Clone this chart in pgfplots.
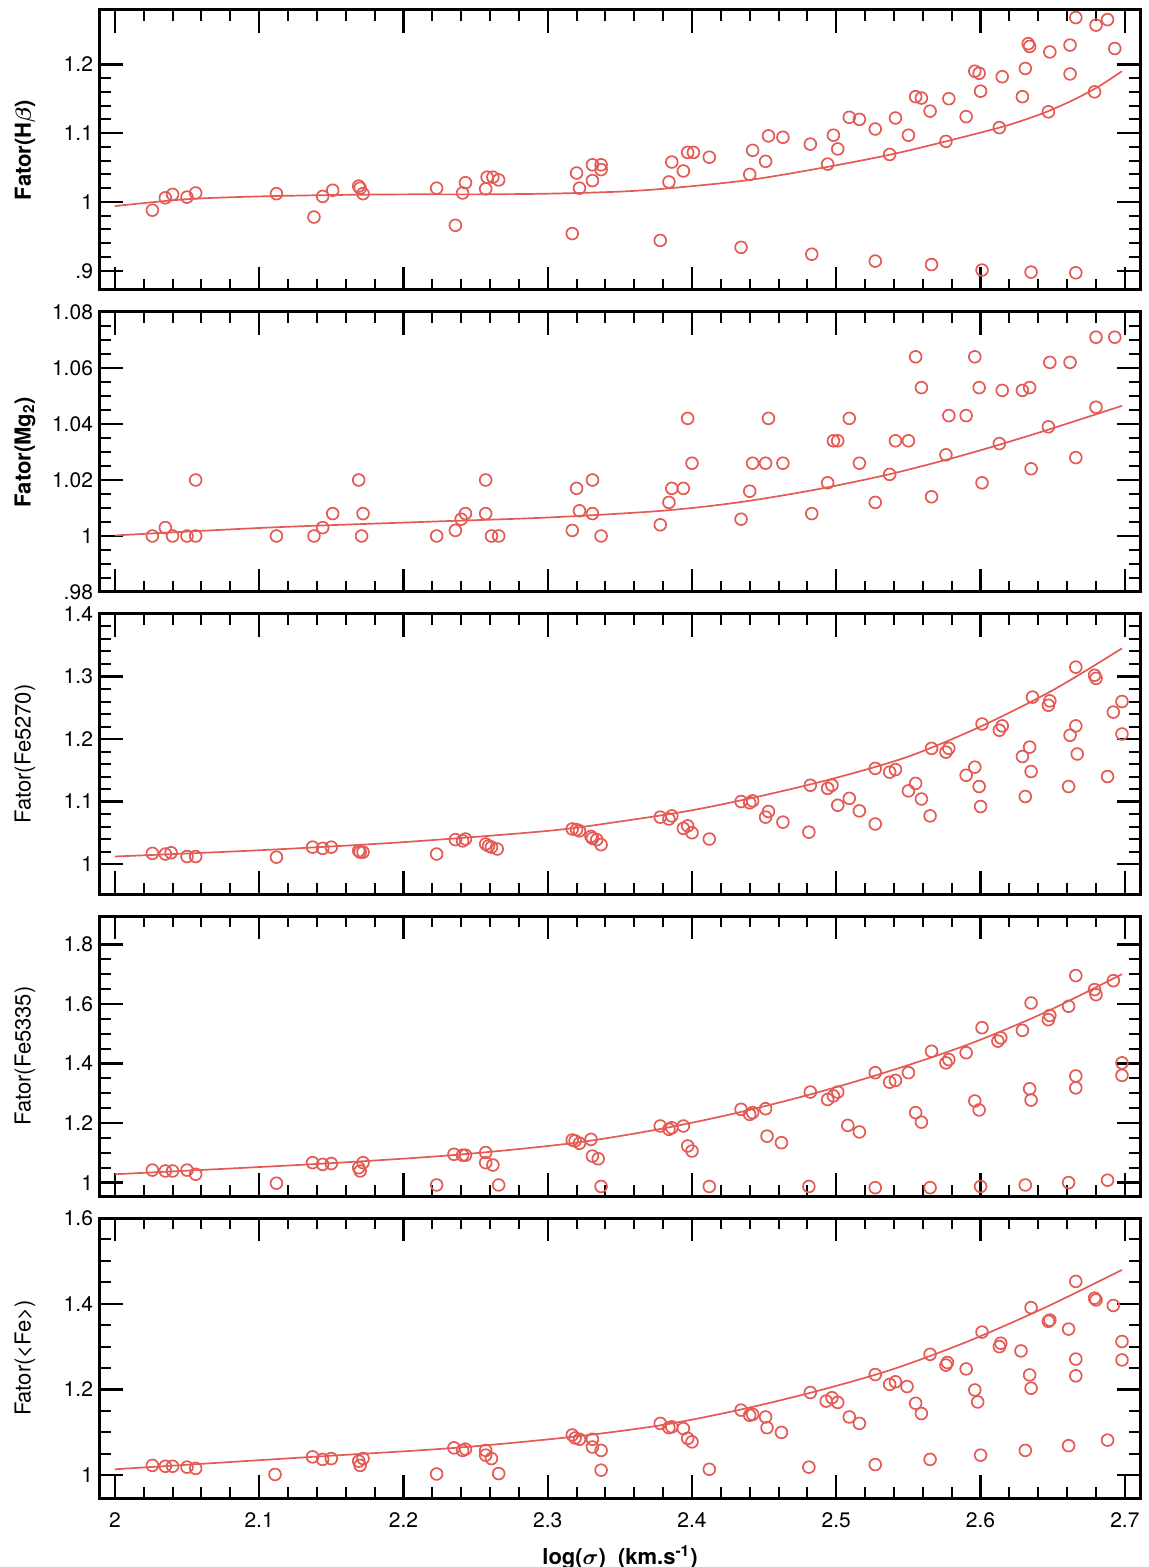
\documentclass[border=0pt]{standalone}
\usepackage{amsmath}
\usepackage{fontspec}
\setmainfont{TeX Gyre Heros}
\usepackage{pgfplots}
\pgfplotsset{compat=1.18}
\definecolor{ptred}{RGB}{228,90,84}

\pgfplotsset{
  panel/.style={
    scale only axis, width=520pt, height=140pt,
    xmin=1.9897, xmax=2.7105,
    xtick={2,2.1,2.2,2.3,2.4,2.5,2.6,2.7},
    xticklabels={},
    minor x tick num=4,
    tick align=inside,
    major tick length=11.5pt, minor tick length=5.5pt,
    major tick style={black,line width=1.2pt},
    minor tick style={black,line width=1pt},
    axis line style={line width=1.5pt},
    tick label style={font=\fontsize{10.5}{12}\selectfont},
    /pgf/number format/assume math mode=true,
    every axis y label/.style={at={(axis description cs:0,0.5)},xshift=-37.5pt,rotate=90,anchor=center,font=\fontsize{11}{13}\selectfont},
    every axis x label/.style={at={(axis description cs:0.5,0)},yshift=-29.5pt,anchor=center,font=\fontsize{11}{13}\selectfont\bfseries},
  },
  pts/.style={only marks, mark=o, mark size=2.95pt, ptred, mark options={line width=0.85pt}},
  fit/.style={no marks, smooth, ptred, line width=0.85pt},
}

\begin{document}
\begin{tikzpicture}
% Hbeta
\begin{axis}[panel, name=p1,
  ymin=0.872, ymax=1.279,
  ytick={0.9,1,1.1,1.2}, yticklabels={.9,1,1.1,1.2},
  minor y tick num=4,
  ylabel={\bfseries Fator(H$\boldsymbol{\beta}$)}]
\addplot[pts] table {
2.026 0.988
2.035 1.006
2.040 1.011
2.050 1.007
2.056 1.013
2.112 1.012
2.138 0.978
2.144 1.008
2.151 1.017
2.169 1.023
2.170 1.020
2.172 1.012
2.223 1.020
2.236 0.966
2.241 1.013
2.243 1.028
2.257 1.019
2.258 1.036
2.262 1.036
2.266 1.032
2.317 0.954
2.320 1.042
2.322 1.020
2.331 1.031
2.331 1.054
2.337 1.054
2.337 1.047
2.378 0.944
2.384 1.029
2.386 1.058
2.394 1.045
2.397 1.072
2.401 1.072
2.412 1.065
2.434 0.934
2.440 1.040
2.442 1.075
2.451 1.059
2.453 1.096
2.463 1.094
2.482 1.084
2.483 0.924
2.494 1.055
2.498 1.097
2.501 1.077
2.509 1.123
2.516 1.120
2.527 1.106
2.527 0.914
2.537 1.069
2.541 1.122
2.550 1.097
2.555 1.153
2.559 1.151
2.565 1.132
2.566 0.909
2.576 1.088
2.578 1.150
2.590 1.124
2.596 1.190
2.599 1.187
2.600 1.161
2.601 0.901
2.613 1.108
2.615 1.182
2.629 1.153
2.631 1.194
2.633 1.230
2.634 1.226
2.635 0.898
2.647 1.131
2.648 1.218
2.662 1.228
2.662 1.186
2.666 0.897
2.666 1.268
2.679 1.160
2.680 1.257
2.688 1.265
2.693 1.223
};
\addplot[fit] table {
2.000 0.994
2.050 1.004
2.100 1.008
2.150 1.010
2.200 1.011
2.250 1.011
2.300 1.012
2.350 1.015
2.385 1.020
2.440 1.032
2.494 1.051
2.538 1.069
2.576 1.088
2.613 1.108
2.630 1.119
2.647 1.132
2.665 1.149
2.682 1.168
2.698 1.190
};
\end{axis}

% Mg2
\begin{axis}[panel, name=p2, at={(p1.south west)}, anchor=north west, yshift=-11pt,
  ymin=0.98, ymax=1.08,
  ytick={0.98,1,1.02,1.04,1.06,1.08}, yticklabels={.98,1,1.02,1.04,1.06,1.08},
  minor y tick num=3,
  ylabel={\bfseries Fator(Mg\textsubscript{2})}]
\addplot[pts] table {
2.026 1.000
2.035 1.003
2.040 1.000
2.050 1.000
2.056 1.000
2.056 1.020
2.112 1.000
2.138 1.000
2.144 1.003
2.151 1.008
2.169 1.020
2.172 1.008
2.171 1.000
2.223 1.000
2.236 1.002
2.240 1.006
2.243 1.008
2.257 1.020
2.257 1.008
2.261 1.000
2.266 1.000
2.317 1.002
2.320 1.017
2.322 1.009
2.331 1.020
2.331 1.008
2.337 1.000
2.378 1.004
2.384 1.012
2.386 1.017
2.394 1.017
2.397 1.042
2.400 1.026
2.434 1.006
2.440 1.016
2.442 1.026
2.451 1.026
2.453 1.042
2.463 1.026
2.483 1.008
2.494 1.019
2.498 1.034
2.501 1.034
2.509 1.042
2.516 1.026
2.527 1.012
2.537 1.022
2.541 1.034
2.550 1.034
2.555 1.064
2.559 1.053
2.566 1.014
2.576 1.029
2.578 1.043
2.590 1.043
2.596 1.064
2.599 1.053
2.601 1.019
2.613 1.033
2.615 1.052
2.629 1.052
2.634 1.053
2.635 1.024
2.647 1.039
2.648 1.062
2.662 1.062
2.666 1.028
2.680 1.046
2.680 1.071
2.693 1.071
2.666 1.082
2.700 1.082
};
\addplot[fit] table {
2.000 1.0002
2.106 1.0030
2.212 1.0050
2.300 1.0066
2.379 1.0090
2.432 1.0120
2.485 1.0165
2.538 1.0222
2.591 1.0293
2.644 1.0375
2.698 1.0465
};
\end{axis}

% Fe5270
\begin{axis}[panel, name=p3, at={(p2.south west)}, anchor=north west, yshift=-11pt,
  ymin=0.952, ymax=1.4,
  ytick={1,1.1,1.2,1.3,1.4}, yticklabels={1,1.1,1.2,1.3,1.4},
  minor y tick num=4,
  ylabel={Fator(Fe5270)}]
\addplot[pts] table {
2.026 1.017
2.035 1.016
2.039 1.018
2.050 1.012
2.056 1.012
2.112 1.011
2.137 1.027
2.144 1.025
2.150 1.027
2.169 1.021
2.170 1.019
2.172 1.019
2.223 1.016
2.236 1.039
2.241 1.037
2.243 1.040
2.257 1.032
2.259 1.029
2.261 1.027
2.265 1.024
2.317 1.056
2.320 1.055
2.322 1.053
2.330 1.044
2.331 1.041
2.334 1.039
2.337 1.031
2.378 1.075
2.384 1.072
2.386 1.077
2.394 1.057
2.397 1.061
2.400 1.050
2.412 1.040
2.434 1.100
2.440 1.098
2.442 1.101
2.451 1.075
2.453 1.084
2.463 1.067
2.482 1.126
2.481 1.051
2.494 1.121
2.497 1.126
2.501 1.094
2.509 1.105
2.516 1.085
2.527 1.153
2.527 1.064
2.537 1.147
2.541 1.151
2.550 1.117
2.555 1.129
2.559 1.104
2.565 1.077
2.566 1.185
2.576 1.179
2.578 1.185
2.590 1.142
2.596 1.155
2.599 1.124
2.600 1.092
2.601 1.224
2.613 1.214
2.615 1.221
2.629 1.172
2.631 1.108
2.634 1.187
2.635 1.148
2.636 1.267
2.647 1.254
2.648 1.261
2.661 1.124
2.662 1.206
2.666 1.221
2.667 1.176
2.666 1.315
2.679 1.302
2.680 1.297
2.688 1.140
2.692 1.243
2.698 1.260
2.698 1.208
};
\addplot[fit] table {
2.000 1.012
2.100 1.022
2.200 1.035
2.300 1.053
2.350 1.068
2.400 1.086
2.450 1.110
2.500 1.138
2.550 1.172
2.600 1.220
2.650 1.278
2.698 1.345
};
\end{axis}

% Fe5335
\begin{axis}[panel, name=p4, at={(p3.south west)}, anchor=north west, yshift=-11pt,
  ymin=0.955, ymax=1.895,
  ytick={1,1.2,1.4,1.6,1.8}, yticklabels={1,1.2,1.4,1.6,1.8},
  minor y tick num=3,
  ylabel={Fator(Fe5335)}]
\addplot[pts] table {
2.026 1.042
2.035 1.039
2.040 1.039
2.050 1.042
2.056 1.028
2.112 0.998
2.137 1.067
2.144 1.061
2.150 1.064
2.169 1.050
2.170 1.039
2.172 1.067
2.223 0.992
2.235 1.095
2.241 1.092
2.243 1.092
2.257 1.101
2.257 1.067
2.262 1.059
2.266 0.992
2.317 1.143
2.319 1.140
2.322 1.132
2.330 1.145
2.331 1.089
2.335 1.080
2.337 0.987
2.378 1.190
2.384 1.179
2.386 1.184
2.394 1.190
2.397 1.123
2.400 1.106
2.412 0.987
2.434 1.246
2.440 1.229
2.442 1.235
2.451 1.248
2.452 1.156
2.462 1.134
2.481 0.987
2.482 1.304
2.494 1.279
2.498 1.291
2.501 1.304
2.508 1.192
2.516 1.170
2.527 1.369
2.527 0.983
2.537 1.337
2.541 1.343
2.550 1.369
2.555 1.235
2.559 1.203
2.565 0.983
2.566 1.441
2.576 1.402
2.578 1.413
2.590 1.436
2.596 1.274
2.599 1.244
2.600 0.987
2.601 1.520
2.612 1.475
2.614 1.486
2.629 1.511
2.631 0.992
2.634 1.315
2.635 1.277
2.635 1.603
2.647 1.547
2.648 1.561
2.661 1.592
2.661 1.000
2.666 1.358
2.666 1.318
2.666 1.695
2.679 1.648
2.680 1.631
2.688 1.008
2.692 1.678
2.698 1.402
2.698 1.360
};
\addplot[fit] table {
2.000 1.028
2.138 1.062
2.236 1.093
2.318 1.133
2.379 1.181
2.432 1.235
2.485 1.300
2.538 1.376
2.591 1.463
2.644 1.570
2.698 1.700
};
\end{axis}

% <Fe>
\begin{axis}[panel, name=p5, at={(p4.south west)}, anchor=north west, yshift=-11pt,
  ymin=0.947, ymax=1.6,
  ytick={1,1.2,1.4,1.6}, yticklabels={1,1.2,1.4,1.6},
  minor y tick num=3,
  xticklabels={2,2.1,2.2,2.3,2.4,2.5,2.6,2.7},
  xticklabel style={yshift=-4pt},
  ylabel={Fator(<Fe>)},
  xlabel={log($\boldsymbol{\sigma}$)\ \ (km.s\textsuperscript{-1})}]
\addplot[pts] table {
2.026 1.023
2.035 1.021
2.040 1.021
2.050 1.019
2.056 1.016
2.111 1.002
2.137 1.043
2.144 1.037
2.150 1.039
2.169 1.033
2.170 1.023
2.172 1.039
2.223 1.003
2.235 1.064
2.241 1.058
2.243 1.061
2.257 1.058
2.257 1.047
2.261 1.039
2.266 1.004
2.317 1.094
2.319 1.087
2.322 1.084
2.331 1.084
2.331 1.066
2.337 1.058
2.337 1.012
2.378 1.121
2.384 1.111
2.386 1.113
2.394 1.109
2.397 1.086
2.400 1.078
2.412 1.014
2.434 1.152
2.440 1.140
2.442 1.142
2.451 1.136
2.452 1.111
2.462 1.100
2.481 1.019
2.482 1.193
2.493 1.173
2.497 1.181
2.501 1.170
2.509 1.136
2.516 1.121
2.527 1.235
2.527 1.025
2.537 1.212
2.541 1.218
2.549 1.207
2.555 1.168
2.559 1.144
2.565 1.037
2.565 1.282
2.576 1.257
2.577 1.263
2.590 1.248
2.596 1.199
2.598 1.171
2.600 1.047
2.601 1.334
2.613 1.300
2.614 1.308
2.628 1.290
2.631 1.058
2.634 1.234
2.635 1.203
2.635 1.391
2.647 1.359
2.648 1.362
2.661 1.341
2.661 1.069
2.666 1.271
2.666 1.232
2.666 1.452
2.679 1.413
2.680 1.409
2.688 1.082
2.692 1.396
2.698 1.312
2.698 1.269
};
\addplot[fit] table {
2.000 1.014
2.137 1.043
2.236 1.064
2.318 1.090
2.379 1.117
2.432 1.152
2.485 1.195
2.538 1.246
2.591 1.312
2.644 1.390
2.698 1.479
};
\end{axis}

\pgfresetboundingbox
\path[use as bounding box] ([xshift=-50pt,yshift=5pt]p1.north west) rectangle ([xshift=4pt,yshift=-34.5pt]p5.south east);
\end{tikzpicture}
\end{document}
